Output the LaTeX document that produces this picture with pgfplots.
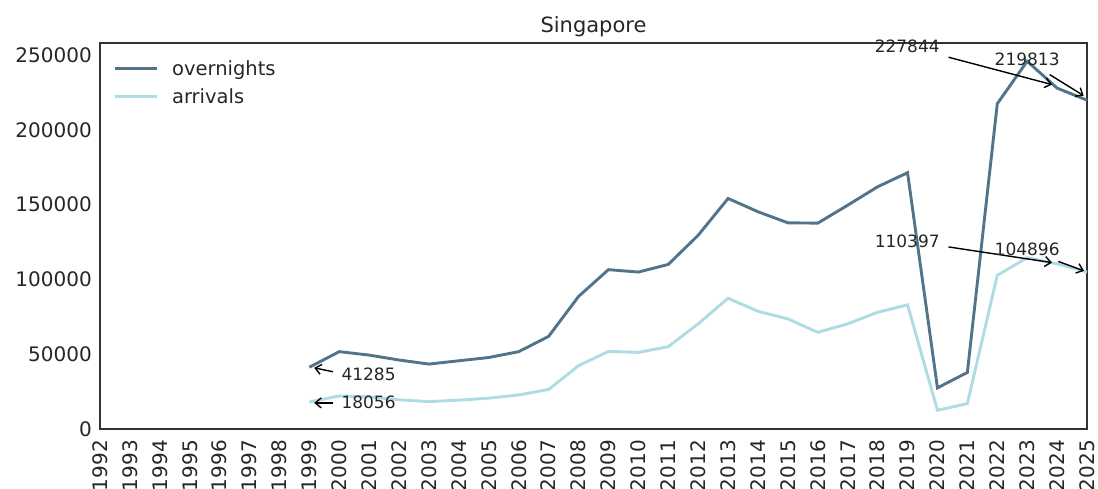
\documentclass[border=0pt]{standalone}
\usepackage{fontspec}
\setmainfont{DejaVu Sans}
\usepackage{pgfplots}
\pgfplotsset{compat=1.18}
\usetikzlibrary{arrows.meta}
\definecolor{ovc}{HTML}{52748A}
\definecolor{arc}{HTML}{ADDCE3}
\definecolor{axc}{HTML}{333333}
\definecolor{txc}{HTML}{262626}
\newcommand{\tl}[1]{\textnormal{#1}}
\begin{document}
\begin{tikzpicture}
\useasboundingbox (-100pt,-59pt) rectangle (998pt,429pt);
\begin{axis}[
  scale only axis, width=987pt, height=386pt,
  xmin=1992, xmax=2025, ymin=0, ymax=258000,
  xtick={1992,1993,1994,1995,1996,1997,1998,1999,2000,2001,2002,2003,2004,2005,2006,2007,2008,2009,2010,2011,2012,2013,2014,2015,2016,2017,2018,2019,2020,2021,2022,2023,2024,2025},
  xticklabels={\tl{1992},\tl{1993},\tl{1994},\tl{1995},\tl{1996},\tl{1997},\tl{1998},\tl{1999},\tl{2000},\tl{2001},\tl{2002},\tl{2003},\tl{2004},\tl{2005},\tl{2006},\tl{2007},\tl{2008},\tl{2009},\tl{2010},\tl{2011},\tl{2012},\tl{2013},\tl{2014},\tl{2015},\tl{2016},\tl{2017},\tl{2018},\tl{2019},\tl{2020},\tl{2021},\tl{2022},\tl{2023},\tl{2024},\tl{2025}},
  ytick={0,50000,100000,150000,200000,250000},
  yticklabels={\tl{0},\tl{50000},\tl{100000},\tl{150000},\tl{200000},\tl{250000}},
  scaled y ticks=false,
  xticklabel style={font=\fontsize{20}{24}\selectfont, text=txc, rotate=90, anchor=east, inner xsep=11pt},
  yticklabel style={font=\fontsize{20}{24}\selectfont, text=txc, anchor=east, inner xsep=8pt},
  major tick length=0pt,
  axis line style={axc, line width=1.5pt},
  title=Singapore,
  title style={font=\fontsize{21}{25}\selectfont, text=txc, at={(0.5,1)}, anchor=base, yshift=4pt},
  legend style={draw=none, fill=none, at={(0,1)}, anchor=north west, xshift=10pt, yshift=-12pt,
    row sep=6pt, column sep=11pt, nodes={inner sep=3pt, font=\fontsize{19.5}{24}\selectfont, text=txc}},
  legend cell align=left,
  legend image code/.code={\draw[#1] (0pt,0pt) -- (42pt,0pt);},
  clip=false,
]
\addplot[ovc, line width=2.9pt] coordinates {
(1999,41285) (2000,51700) (2001,49400) (2002,46100) (2003,43400) (2004,45600)
(2005,47800) (2006,51700) (2007,61900) (2008,88600) (2009,106500) (2010,104900)
(2011,110000) (2012,129500) (2013,154100) (2014,145200) (2015,137800) (2016,137600)
(2017,149600) (2018,161900) (2019,171300) (2020,27500) (2021,37800) (2022,217400)
(2023,245800) (2024,227844) (2025,219813)};
\addlegendentry{overnights}
\addplot[arc, line width=2.9pt] coordinates {
(1999,18056) (2000,22100) (2001,21500) (2002,19500) (2003,18300) (2004,19300)
(2005,20600) (2006,22800) (2007,26400) (2008,42300) (2009,51900) (2010,51200)
(2011,55000) (2012,70300) (2013,87400) (2014,78700) (2015,73600) (2016,64600)
(2017,70300) (2018,78000) (2019,83000) (2020,12500) (2021,17000) (2022,102700)
(2023,114500) (2024,110397) (2025,104896)};
\addlegendentry{arrivals}
\tikzset{ann/.style={font=\fontsize{17}{20}\selectfont, text=txc, inner sep=0pt},
  arr/.style={-{Straight Barb[length=6pt,width=10pt]}, line width=1.4pt, black}}
\node[ann] at (axis cs:2000.98,36700) {41285};
\draw[arr] (axis cs:1999.79,38250) -- (axis cs:1999.16,40900);
\node[ann] at (axis cs:2000.98,17650) {18056};
\draw[arr] (axis cs:1999.79,17450) -- (axis cs:1999.16,17450);
\node[ann] at (axis cs:2018.99,255900) {227844};
\draw[arr] (axis cs:2020.37,248500) -- (axis cs:2023.83,230200);
\node[ann] at (axis cs:2023.0,246900) {219813};
\draw[arr] (axis cs:2023.75,236900) -- (axis cs:2024.89,222800);
\node[ann] at (axis cs:2018.99,125700) {110397};
\draw[arr] (axis cs:2020.37,121700) -- (axis cs:2023.83,111200);
\node[ann] at (axis cs:2023.0,119900) {104896};
\draw[arr] (axis cs:2024.04,112000) -- (axis cs:2024.9,105700);
\end{axis}
\end{tikzpicture}
\end{document}
